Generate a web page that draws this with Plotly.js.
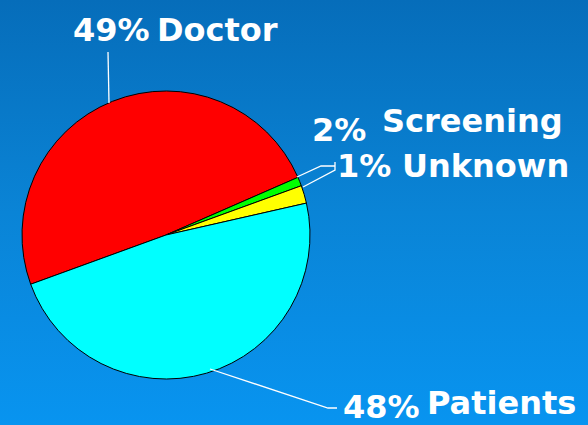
<!DOCTYPE html>
<html>
<head>
<meta charset="utf-8">
<script src="https://cdn.plot.ly/plotly-3.0.1.min.js"></script>
<style>
html,body{margin:0;padding:0;width:588px;height:425px;overflow:hidden;
background:linear-gradient(to bottom,#066dba 0%,#0a84d6 50%,#0894f0 100%);}
#chart{width:588px;height:425px;}
</style>
</head>
<body>
<div id="chart"></div>
<script>
// Data (slice order clockwise starting from the Doctor slice)
const categories = ['Doctor', 'Unknown', 'Screening', 'Patients'];
const shares = [49, 1, 2, 48];
const sliceColors = ['#ff0000', '#00ff00', '#ffff00', '#00ffff'];

const W = 588, H = 425;
const px = x => x / W;
const py = y => 1 - y / H;

const font = {family: 'DejaVu Sans, Verdana, sans-serif', size: 32, color: '#ffffff'};

// label positions (pixels, left edge + vertical middle): [pctX, pctY, nameX, nameY]
const labelPos = {
  'Doctor':    [71, 30, 155, 30],
  'Screening': [310, 130, 380, 121],
  'Unknown':   [335, 166, 400, 166],
  'Patients':  [341, 407, 425, 403]
};

const annotations = [];
categories.forEach((c, i) => {
  const p = labelPos[c];
  annotations.push({x: px(p[0]), y: py(p[1]), xref: 'paper', yref: 'paper',
    text: '<b>' + shares[i] + '%</b>', showarrow: false, font: font,
    xanchor: 'left', yanchor: 'middle'});
  annotations.push({x: px(p[2]), y: py(p[3]), xref: 'paper', yref: 'paper',
    text: '<b>' + c + '</b>', showarrow: false, font: font,
    xanchor: 'left', yanchor: 'middle'});
});

const line = {color: '#ffffff', width: 1.3};
const mkPath = pts => 'M ' + pts.map(p => px(p[0]) + ' ' + py(p[1])).join(' L ');
const shapes = [
  {type: 'path', xref: 'paper', yref: 'paper', path: mkPath([[108, 52], [109, 103]]), line: line},
  {type: 'path', xref: 'paper', yref: 'paper', path: mkPath([[210, 369], [328, 408], [337, 408]]), line: line},
  {type: 'path', xref: 'paper', yref: 'paper', path: mkPath([[297, 177], [321, 166], [335, 166]]), line: line},
  {type: 'path', xref: 'paper', yref: 'paper', path: mkPath([[303, 187], [335, 170], [335, 162]]), line: line}
];

const cx = 166, cy = 235, r = 144;
const trace = {
  type: 'pie',
  labels: categories,
  values: shares,
  sort: false,
  direction: 'clockwise',
  rotation: 250,
  textinfo: 'none',
  hoverinfo: 'label+percent',
  marker: {colors: sliceColors, line: {color: '#000000', width: 1}},
  domain: {x: [px(cx - r), px(cx + r)], y: [py(cy + r), py(cy - r)]}
};

Plotly.newPlot('chart', [trace], {
  width: W, height: H,
  margin: {l: 0, r: 0, t: 0, b: 0},
  paper_bgcolor: 'rgba(0,0,0,0)',
  plot_bgcolor: 'rgba(0,0,0,0)',
  showlegend: false,
  annotations: annotations,
  shapes: shapes
}, {displayModeBar: false, staticPlot: true});
</script>
</body>
</html>
